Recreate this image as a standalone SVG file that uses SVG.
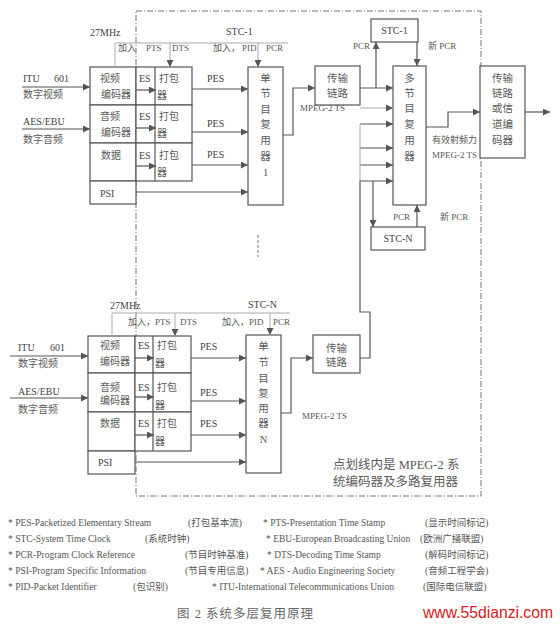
<svg xmlns="http://www.w3.org/2000/svg" width="560" height="632" viewBox="0 0 560 632">
<style>
.bx{fill:#fff;stroke:#555;stroke-width:1.2}
.ln{fill:none;stroke:#555;stroke-width:1.2}
.gl{fill:none;stroke:#aaa;stroke-width:1}
.ds{fill:none;stroke:#777;stroke-width:1;stroke-dasharray:6 2 1 2}
.t{font-family:"Liberation Serif","Noto Sans CJK SC",serif;font-size:10px;fill:#444}
.c{font-family:"Liberation Serif","Noto Sans CJK SC",serif;font-size:10.5px;fill:#5a5a5a}
.e{font-family:"Liberation Serif","Noto Sans CJK SC",serif;font-size:10px;fill:#5a5a5a}
.s{font-family:"Liberation Serif","Noto Sans CJK SC",serif;font-size:9px;fill:#555}
.m{text-anchor:middle}
.lg{font-family:"Liberation Serif","Noto Sans CJK SC",serif;font-size:9.5px;fill:#555}
</style>
<defs>
<marker id="a" viewBox="0 0 10 10" refX="10" refY="5" markerWidth="9" markerHeight="7" markerUnits="userSpaceOnUse" orient="auto"><path d="M0,0 L10,5 L0,10z" fill="#555"/></marker>
</defs>

<!-- dash-dot boundary -->
<rect id="boundary" class="ds" x="136" y="11" width="345" height="485"/>
<line class="ds" x1="258" y1="235" x2="258" y2="257" style="stroke-dasharray:3 2"/>

<!-- ===== top program ===== -->
<g id="in1">
<text class="t" x="23" y="82">ITU</text><text class="t" x="54" y="82">601</text>
<text class="e" x="23" y="98">数字视频</text>
<text class="t" x="23" y="125">AES/EBU</text>
<text class="e" x="23" y="143">数字音频</text>
</g>
<g id="venc1"><rect class="bx" x="90" y="67" width="46" height="38"/><text class="e" x="100" y="82">视频</text><text class="e" x="101" y="98">编码器</text></g>
<g id="aenc1"><rect class="bx" x="90" y="105" width="46" height="38"/><text class="e" x="100" y="120">音频</text><text class="e" x="101" y="136">编码器</text></g>
<g id="denc1"><rect class="bx" x="90" y="143" width="46" height="38"/><text class="e" x="101" y="159">数据</text></g>
<g id="psi1"><rect class="bx" x="90" y="181" width="46" height="23"/><text class="t" x="100" y="197">PSI</text></g>
<g id="vpkt1"><rect class="bx" x="136" y="67" width="56" height="38"/><line class="ln" x1="155" y1="67" x2="155" y2="105"/><text class="t" x="139" y="82">ES</text><text class="e" x="159" y="82">打包</text><text class="e" x="157" y="99">器</text></g>
<g id="apkt1"><rect class="bx" x="136" y="105" width="56" height="38"/><line class="ln" x1="155" y1="105" x2="155" y2="143"/><text class="t" x="139" y="120">ES</text><text class="e" x="159" y="120">打包</text><text class="e" x="157" y="137">器</text></g>
<g id="dpkt1"><rect class="bx" x="136" y="143" width="56" height="38"/><line class="ln" x1="155" y1="143" x2="155" y2="181"/><text class="t" x="139" y="159">ES</text><text class="e" x="159" y="159">打包</text><text class="e" x="157" y="176">器</text></g>
<g id="spmux1"><rect class="bx" x="248" y="67" width="35" height="138"/>
<g class="c m"><text x="265.5" y="82">单</text><text x="265.5" y="97">节</text><text x="265.5" y="113">目</text><text x="265.5" y="128">复</text><text x="265.5" y="144">用</text><text x="265.5" y="160">器</text><text x="265.5" y="176">1</text></g></g>
<g id="clk1">
<text class="t" x="90" y="36">27MHz</text><text class="t" x="226" y="35">STC-1</text>
<text class="s" x="118" y="51">加入</text><text class="s" x="146" y="51">PTS</text><text class="s" x="172" y="51">DTS</text>
<text class="s" x="213" y="51">加入，</text><text class="s" x="242" y="51">PID</text><text class="s" x="266" y="51">PCR</text>
</g>
<g id="link1"><rect class="bx" x="315" y="66" width="45" height="39"/><text class="c m" x="337.5" y="82">传输</text><text class="c m" x="337.5" y="97">链路</text></g>

<!-- ===== multiplexer side ===== -->
<g id="stc1"><rect class="bx" x="371" y="19" width="47" height="23"/><text class="t m" x="394.5" y="34">STC-1</text></g>
<g id="multimux"><rect class="bx" x="393" y="66" width="33" height="139"/>
<g class="c m"><text x="409.5" y="82">多</text><text x="409.5" y="97">节</text><text x="409.5" y="112">目</text><text x="409.5" y="128">复</text><text x="409.5" y="144">用</text><text x="409.5" y="160">器</text></g></g>
<g id="stcn"><rect class="bx" x="371" y="227" width="54" height="23"/><text class="t m" x="398" y="242">STC-N</text></g>
<g id="outbox"><rect class="bx" x="480" y="66" width="45" height="92"/>
<g class="c m"><text x="502.5" y="82">传输</text><text x="502.5" y="97">链路</text><text x="502.5" y="112">或信</text><text x="502.5" y="128">道编</text><text x="502.5" y="144">码器</text></g></g>

<!-- ===== bottom program ===== -->
<g id="inN">
<text class="t" x="18" y="351">ITU</text><text class="t" x="50" y="351">601</text>
<text class="e" x="18" y="367">数字视频</text>
<text class="t" x="18" y="395">AES/EBU</text>
<text class="e" x="18" y="413">数字音频</text>
</g>
<g id="vencN"><rect class="bx" x="88" y="336" width="47" height="37"/><text class="e" x="100" y="349">视频</text><text class="e" x="100" y="365">编码器</text></g>
<g id="aencN"><rect class="bx" x="88" y="373" width="47" height="39"/><text class="e" x="100" y="391">音频</text><text class="e" x="100" y="404">编码器</text></g>
<g id="dencN"><rect class="bx" x="88" y="412" width="47" height="39"/><text class="e" x="100" y="427">数据</text></g>
<g id="psiN"><rect class="bx" x="88" y="451" width="47" height="23"/><text class="t" x="98" y="466">PSI</text></g>
<g id="vpktN"><rect class="bx" x="135" y="336" width="56" height="37"/><line class="ln" x1="153" y1="336" x2="153" y2="373"/><text class="t" x="138" y="349">ES</text><text class="e" x="157" y="349">打包</text><text class="e" x="155" y="367">器</text></g>
<g id="apktN"><rect class="bx" x="135" y="373" width="56" height="39"/><line class="ln" x1="153" y1="373" x2="153" y2="412"/><text class="t" x="138" y="391">ES</text><text class="e" x="157" y="391">打包</text><text class="e" x="155" y="409">器</text></g>
<g id="dpktN"><rect class="bx" x="135" y="412" width="56" height="39"/><line class="ln" x1="153" y1="412" x2="153" y2="451"/><text class="t" x="138" y="427">ES</text><text class="e" x="157" y="427">打包</text><text class="e" x="155" y="445">器</text></g>
<g id="spmuxN"><rect class="bx" x="246" y="335" width="35" height="138"/>
<g class="c m"><text x="263.5" y="350">单</text><text x="263.5" y="366">节</text><text x="263.5" y="382">目</text><text x="263.5" y="397">复</text><text x="263.5" y="412">用</text><text x="263.5" y="427">器</text><text x="263.5" y="443">N</text></g></g>
<g id="clkN">
<text class="t" x="110" y="309">27MHz</text><text class="t" x="248" y="308">STC-N</text>
<text class="s" x="128" y="325">加入，</text><text class="s" x="155" y="325">PTS</text><text class="s" x="180" y="325">DTS</text>
<text class="s" x="222" y="325">加入，</text><text class="s" x="249" y="325">PID</text><text class="s" x="273" y="325">PCR</text>
</g>
<g id="linkN"><rect class="bx" x="313" y="335" width="47" height="38"/><text class="c m" x="336.5" y="352">传输</text><text class="c m" x="336.5" y="366">链路</text></g>

<!-- ===== connectors ===== -->
<g id="connectors">
<line class="ln" x1="22" y1="87" x2="90" y2="87" marker-end="url(#a)"/>
<line class="ln" x1="22" y1="129" x2="90" y2="129" marker-end="url(#a)"/>
<line class="ln" x1="136" y1="90" x2="156" y2="90" marker-end="url(#a)"/>
<line class="ln" x1="136" y1="128" x2="156" y2="128" marker-end="url(#a)"/>
<line class="ln" x1="136" y1="166" x2="156" y2="166" marker-end="url(#a)"/>
<line class="ln" x1="192" y1="89" x2="248" y2="89" marker-end="url(#a)"/>
<line class="ln" x1="192" y1="132" x2="248" y2="132" marker-end="url(#a)"/>
<line class="ln" x1="192" y1="165" x2="248" y2="165" marker-end="url(#a)"/>
<line class="ln" x1="136" y1="192" x2="248" y2="192" marker-end="url(#a)"/>
<polyline class="gl" points="115,67 115,43 288,43"/>
<line class="gl" x1="170" y1="43" x2="170" y2="67" marker-end="url(#a)"/>
<line class="gl" x1="258" y1="43" x2="258" y2="67" marker-end="url(#a)"/>
<polyline class="ln" points="283,135 293,135 293,88 315,88" marker-end="url(#a)"/>
<line class="ln" x1="360" y1="88" x2="393" y2="88" marker-end="url(#a)"/>
<line class="ln" x1="376" y1="88" x2="376" y2="42" marker-end="url(#a)"/>
<line class="ln" x1="417" y1="42" x2="417" y2="66" marker-end="url(#a)"/>
<line class="gl" x1="360" y1="108" x2="393" y2="108" marker-end="url(#a)"/>
<line class="ln" x1="360" y1="124" x2="393" y2="124" marker-end="url(#a)"/>
<line class="ln" x1="360" y1="148" x2="393" y2="148" marker-end="url(#a)"/>
<line class="ln" x1="360" y1="165" x2="393" y2="165" marker-end="url(#a)"/>
<polyline class="ln" points="360,358 370,358 370,312 360,312 360,181 393,181" marker-end="url(#a)"/>
<line class="gl" x1="360" y1="124" x2="360" y2="181"/>
<line class="ln" x1="373" y1="181" x2="373" y2="227" marker-end="url(#a)"/>
<line class="ln" x1="417" y1="227" x2="417" y2="205" marker-end="url(#a)"/>
<polyline class="ln" points="426,127 448,127 448,112 480,112" marker-end="url(#a)"/>
<line class="ln" x1="525" y1="112" x2="550" y2="112" marker-end="url(#a)"/>
<line class="ln" x1="10" y1="356" x2="88" y2="356" marker-end="url(#a)"/>
<line class="ln" x1="10" y1="398" x2="88" y2="398" marker-end="url(#a)"/>
<line class="ln" x1="135" y1="358" x2="154" y2="358" marker-end="url(#a)"/>
<line class="ln" x1="135" y1="397" x2="154" y2="397" marker-end="url(#a)"/>
<line class="ln" x1="135" y1="435" x2="154" y2="435" marker-end="url(#a)"/>
<line class="ln" x1="191" y1="358" x2="246" y2="358" marker-end="url(#a)"/>
<line class="ln" x1="191" y1="401" x2="246" y2="401" marker-end="url(#a)"/>
<line class="ln" x1="191" y1="435" x2="246" y2="435" marker-end="url(#a)"/>
<line class="ln" x1="135" y1="462" x2="246" y2="462" marker-end="url(#a)"/>
<polyline class="gl" points="112,336 112,313 290,313"/>
<line class="gl" x1="175" y1="313" x2="175" y2="336" marker-end="url(#a)"/>
<line class="gl" x1="270" y1="313" x2="270" y2="335" marker-end="url(#a)"/>
<polyline class="ln" points="281,413 291,413 291,358 313,358" marker-end="url(#a)"/>
</g>

<!-- connector labels -->
<g id="labels">
<text class="t" x="207" y="82">PES</text><text class="t" x="207" y="127">PES</text><text class="t" x="207" y="158">PES</text>
<text class="t" x="200" y="350">PES</text><text class="t" x="200" y="396">PES</text><text class="t" x="200" y="427">PES</text>
<text class="s" x="300" y="111">MPEG-2 TS</text>
<text class="s" x="302" y="419">MPEG-2 TS</text>
<text class="s" x="353" y="49">PCR</text><text class="s" x="428" y="49">新 PCR</text>
<text class="s" x="393" y="220">PCR</text><text class="s" x="440" y="220">新 PCR</text>
<text class="s" x="432" y="143">有效射频力</text>
<text class="s" x="432" y="158">MPEG-2 TS</text>
<text class="c" x="333" y="469" style="font-size:12.5px">点划线内是 MPEG-2 系</text>
<text class="c" x="333" y="486" style="font-size:12.5px">统编码器及多路复用器</text>
</g>

<!-- legend -->
<g id="legend" class="lg">
<text x="8" y="526">* PES-Packetized Elementary Stream</text><text x="188" y="526">(打包基本流)</text>
<text x="8" y="542">* STC-System Time Clock</text><text x="145" y="542">(系统时钟)</text>
<text x="8" y="558">* PCR-Program Clock Reference</text><text x="185" y="558">(节目时钟基准)</text>
<text x="8" y="574">* PSI-Program Specific Information</text><text x="185" y="574">(节目专用信息)</text>
<text x="8" y="590">* PID-Packet Identifier</text><text x="133" y="590">(包识别)</text>
<text x="263" y="526">* PTS-Presentation Time Stamp</text><text x="425" y="526">(显示时间标记)</text>
<text x="266" y="542">* EBU-European Broadcasting Union</text><text x="420" y="542">(欧洲广播联盟)</text>
<text x="267" y="558">* DTS-Decoding Time Stamp</text><text x="425" y="558">(解码时间标记)</text>
<text x="260" y="574">* AES - Audio Engineering Society</text><text x="425" y="574">(音频工程学会)</text>
<text x="212" y="590">* ITU-International Telecommunications Union</text><text x="423" y="590">(国际电信联盟)</text>
</g>

<text id="caption" x="177" y="618" style="font-family:'Liberation Serif','Noto Sans CJK SC',serif;font-size:12.5px;letter-spacing:1px;fill:#666">图 2   系统多层复用原理</text>
<text id="watermark" x="423" y="618" textLength="130" lengthAdjust="spacingAndGlyphs" style="font-family:'Liberation Sans',sans-serif;font-size:16px;fill:#d42020">www.55dianzi.com</text>
</svg>
